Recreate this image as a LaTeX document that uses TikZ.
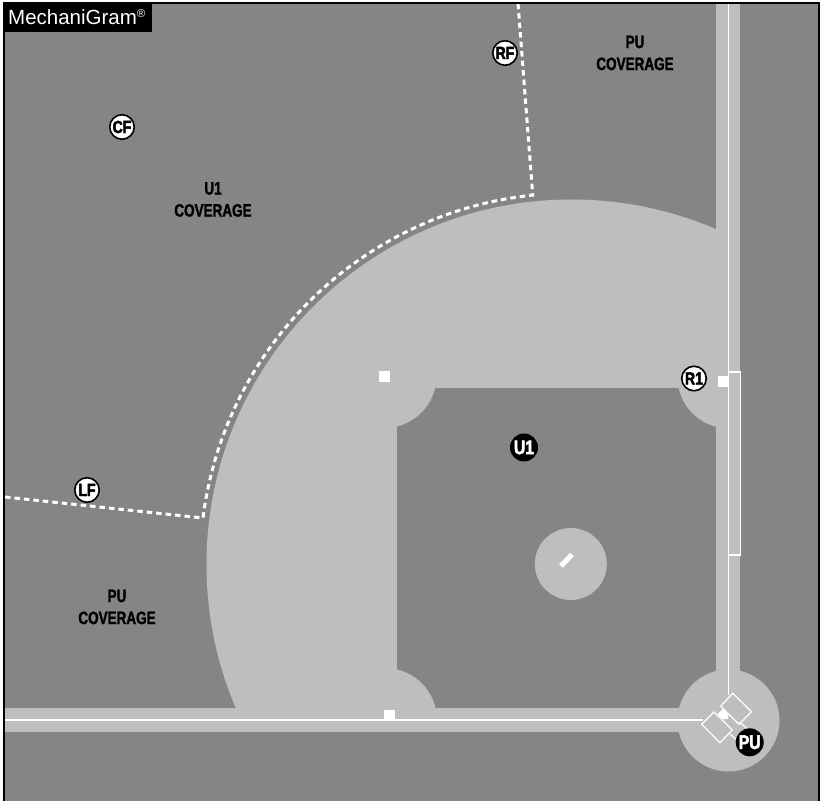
\documentclass[tikz,border=0pt]{standalone}
\usepackage{fontspec}
\setmainfont{Liberation Sans}
\newfontfamily\covfont[FakeStretch=0.75,FakeBold=1.6]{Liberation Sans}
\newfontfamily\playerfont[FakeStretch=0.8,FakeBold=2.6]{Liberation Sans}
\definecolor{turf}{HTML}{858585}
\definecolor{dirt}{HTML}{BEBEBE}
\tikzset{
  fieldline/.style={draw=white,line width=1.5pt},
  thinline/.style={draw=white,line width=1.2pt},
  zone/.style={draw=white,line width=3pt,dash pattern=on 5.5pt off 4pt},
  fielder/.style={circle,draw=black,line width=1.6pt,fill=white,minimum size=24.5pt,inner sep=0pt,text=black,font=\playerfont\bfseries\fontsize{17.5}{17.5}\selectfont},
  official/.style={circle,fill=black,minimum size=28pt,inner sep=0pt,text=white,font=\playerfont\bfseries\fontsize{19.5}{19.5}\selectfont},
  covlabel/.style={align=center,text=black,font=\covfont\bfseries\fontsize{18}{22}\selectfont},
  whitebase/.style={fill=white}
}
\begin{document}
\begin{tikzpicture}[x=1pt,y=1pt]
\useasboundingbox (0,0) rectangle (820,801);
\fill[white] (0,0) rectangle (820,801);
\fill[turf] (4,0) rectangle (818,798);
% outfield dirt
\begin{scope}
  \clip (4,93) rectangle (716,798);
  \fill[dirt] (571.5,236.5) circle[radius=365];
\end{scope}
% foul strips
\fill[dirt] (716,69) rectangle (740,798);
\fill[dirt] (4,69) rectangle (740,93);
% infield
\fill[turf] (397,93) rectangle (716,413);
\begin{scope}
  \clip (397,93) rectangle (716,413);
  \fill[dirt] (384.5,425) circle[radius=52];
  \fill[dirt] (729,424) circle[radius=51.5];
  \fill[dirt] (385,81) circle[radius=52];
\end{scope}
\fill[dirt] (728.5,80.5) circle[radius=51];
\node[circle,fill=dirt,minimum size=72pt,inner sep=0pt] (mound) at (570.8,237) {};
\coordinate (rubberA) at (561,235);
\coordinate (rubberB) at (572,246.5);
\draw[white,line width=5pt] (rubberA) -- (rubberB);
% foul lines
\draw[fieldline] (4,81) -- (703,81);
\draw[fieldline] (728.3,798) -- (728.3,106);
% runner lane
\draw[thinline] (728.3,429) rectangle (740.3,246);
% catcher box
\draw[thinline] (739.5,79) -- (750,70);
\draw[thinline] (730,67) -- (740,58);
% batter boxes
\draw[thinline] (732.7,107.7) -- (751.5,89.3) -- (739,76.7) -- (720.7,94.7) -- cycle;
\draw[thinline] (714,89) -- (732.3,71) -- (720,58.3) -- (701.7,76.7) -- cycle;
% plate
\fill[white] (723,92) -- (728.2,86.7) -- (728.2,82) -- (722.7,81.7) -- (717.3,86.7) -- cycle;
% bases
\fill[whitebase] (379,419) rectangle (390,430);
\fill[whitebase] (384,81) rectangle (395,91);
\fill[whitebase] (718,414) rectangle (728,425);
% zone lines
\coordinate (zoneL) at (5,304);
\coordinate (zoneLC) at (203,283);
\coordinate (zoneR) at (518,798);
\draw[zone] (zoneL) -- (zoneLC) arc[start angle=172.8,end angle=96,radius=371.5] -- (zoneR);
% players
\node[fielder] (CF) at (122,674) {CF};
\node[fielder] (RF) at (505,748) {RF};
\node[fielder] (LF) at (87,311) {LF};
\node[fielder] (R1) at (694,422.5) {R1};
\node[official] (U1) at (524,353.5) {U1};
\node[official] (PU) at (749.7,58.7) {PU};
% labels
\node[covlabel] (cov1) at (213,601.5) {U1\\COVERAGE};
\node[covlabel] (cov2) at (635,748) {PU\\COVERAGE};
\node[covlabel] (cov3) at (117,194) {PU\\COVERAGE};
% title
\fill[black] (3.5,769) rectangle (152,797);
\draw[black,line width=1.5pt] (4,0) -- (4,798);
\draw[black,line width=1.5pt] (3.3,798) -- (820,798);
\draw[black,line width=2pt] (819,798) -- (819,0);
\node[anchor=base west,inner sep=0pt,text=white,font=\fontsize{20.5}{20.5}\selectfont] (title) at (8,776.5) {MechaniGram\raisebox{6.5pt}{\fontsize{11.5}{11.5}\selectfont ®}};
\end{tikzpicture}
\end{document}
